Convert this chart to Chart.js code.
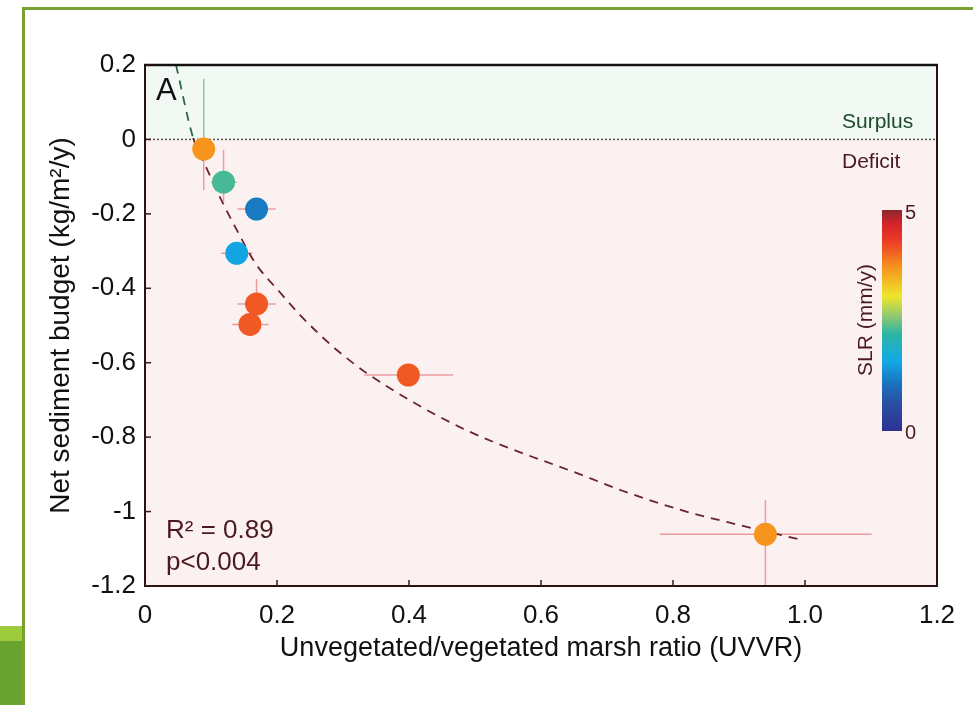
<!DOCTYPE html>
<html>
<head>
<meta charset="utf-8">
<script src="https://cdn.jsdelivr.net/npm/chart.js@4/dist/chart.umd.min.js"></script>
<style>
  body { margin: 0; background: #fff; }
  #wrap { position: relative; width: 973px; height: 705px; overflow: hidden; }
  #chart { position: absolute; left: 0; top: 0; }
  .bar { position: absolute; }
</style>
</head>
<body>
<div id="wrap">
  <canvas id="chart" width="973" height="705"></canvas>
  <div class="bar" style="left:22px;top:7px;width:951px;height:3px;background:#78a132"></div>
  <div class="bar" style="left:22px;top:7px;width:3px;height:698px;background:#78a132"></div>
  <div class="bar" style="left:0;top:626px;width:22px;height:15px;background:#9dcb3c"></div>
  <div class="bar" style="left:0;top:641px;width:22px;height:64px;background:#68a32f"></div>
</div>
<script>
// marsh sites
const uvvr = [0.089, 0.119, 0.169, 0.139, 0.169, 0.159, 0.399, 0.940];
const budget = [-0.026, -0.115, -0.187, -0.306, -0.442, -0.497, -0.633, -1.061];
const slr = [3.7, 2.3, 1.15, 1.55, 4.1, 4.1, 4.1, 3.7];

// error bars (null = none visible)
const uvvrLow = [null, 0.100, 0.140, 0.115, 0.140, 0.132, 0.332, 0.780];
const uvvrHigh = [null, 0.139, 0.198, 0.163, 0.198, 0.187, 0.467, 1.101];
const budgetLow = [-0.136, -0.167, null, null, -0.48, null, null, -1.2];
const budgetHigh = [0.163, -0.028, null, null, -0.375, null, null, -0.969];

// fitted curve
const fitX = [0.047, 0.073, 0.091, 0.114, 0.139, 0.167, 0.205, 0.235, 0.265, 0.292, 0.341, 0.477, 0.674, 0.72, 0.82, 0.886, 0.995];
const fitY = [0.2, 0.004, -0.068, -0.157, -0.243, -0.332, -0.412, -0.472, -0.525, -0.568, -0.634, -0.773, -0.91, -0.942, -1.0, -1.03, -1.076];

const xTickLabels = ['0', '0.2', '0.4', '0.6', '0.8', '1.0', '1.2'];
const yTickLabels = ['-1.2', '-1', '-0.8', '-0.6', '-0.4', '-0.2', '0', '0.2'];

// SLR colour scale (mm/y)
const slrStops = [0, 0.6, 1.1, 1.6, 2.2, 2.6, 3.05, 3.7, 4.3, 4.7, 5];
const slrColors = ['#2e3192', '#2a4da3', '#1a75c0', '#12aae6', '#2db5a3', '#90c870', '#eee52a', '#f7941d', '#ec3b26', '#d2232a', '#8c2a2a'];

const FONT = "'Liberation Sans', Arial, sans-serif";
const MAROON = '#4a1a20';

function hexRgb(h) {
    return [1, 3, 5].map(i => parseInt(h.substr(i, 2), 16));
}

function slrColor(v) {
    for (let i = 1; i < slrStops.length; i++) {
        if (v <= slrStops[i]) {
            const t = (v - slrStops[i - 1]) / (slrStops[i] - slrStops[i - 1]);
            const a = hexRgb(slrColors[i - 1]), b = hexRgb(slrColors[i]);
            const c = a.map((q, k) => Math.round(q + (b[k] - q) * t));
            return `rgb(${c[0]},${c[1]},${c[2]})`;
        }
    }
    return slrColors[slrColors.length - 1];
}

const deco = {
    id: 'deco',
    beforeDraw(chart) {
        const {ctx, chartArea: a, scales: {y}} = chart;
        const y0 = y.getPixelForValue(0);
        ctx.save();
        ctx.fillStyle = '#f2f9f4';
        ctx.fillRect(a.left, a.top, a.width, y0 - a.top);
        ctx.fillStyle = '#fcf1f1';
        ctx.fillRect(a.left, y0, a.width, a.bottom - y0);
        ctx.restore();
    },
    beforeDatasetsDraw(chart) {
        const {ctx, chartArea: a, scales: {x, y}} = chart;
        const y0 = y.getPixelForValue(0);
        ctx.save();
        ctx.beginPath();
        ctx.rect(a.left, a.top, a.width, a.height);
        ctx.clip();
        // zero line
        ctx.strokeStyle = '#555';
        ctx.lineWidth = 1.5;
        ctx.setLineDash([2, 2]);
        ctx.beginPath();
        ctx.moveTo(a.left, y0);
        ctx.lineTo(a.right, y0);
        ctx.stroke();
        ctx.setLineDash([]);
        ctx.lineWidth = 1.5;
        uvvr.forEach((u, i) => {
            const px = x.getPixelForValue(u), py = y.getPixelForValue(budget[i]);
            if (uvvrLow[i] !== null) {
                ctx.strokeStyle = '#ea9ca2';
                ctx.beginPath();
                ctx.moveTo(x.getPixelForValue(uvvrLow[i]), py);
                ctx.lineTo(x.getPixelForValue(uvvrHigh[i]), py);
                ctx.stroke();
            }
            if (budgetLow[i] !== null) {
                const top = y.getPixelForValue(budgetHigh[i]);
                const bot = y.getPixelForValue(budgetLow[i]);
                if (top < y0) {
                    ctx.strokeStyle = '#8ccaa2';
                    ctx.beginPath();
                    ctx.moveTo(px, top);
                    ctx.lineTo(px, Math.min(y0, bot));
                    ctx.stroke();
                }
                if (bot > y0) {
                    ctx.strokeStyle = '#ea9ca2';
                    ctx.beginPath();
                    ctx.moveTo(px, Math.max(y0, top));
                    ctx.lineTo(px, bot);
                    ctx.stroke();
                }
            }
        });
        ctx.restore();
    },
    afterDraw(chart) {
        const {ctx, chartArea: a, scales: {x, y}} = chart;
        ctx.save();
        // frame
        ctx.lineWidth = 2;
        ctx.strokeStyle = '#2a1214';
        ctx.beginPath();
        ctx.moveTo(a.left, a.top);
        ctx.lineTo(a.left, a.bottom);
        ctx.lineTo(a.right, a.bottom);
        ctx.lineTo(a.right, a.top);
        ctx.stroke();
        ctx.strokeStyle = '#111';
        ctx.lineWidth = 2.5;
        ctx.beginPath();
        ctx.moveTo(a.left - 1, a.top);
        ctx.lineTo(a.right + 1, a.top);
        ctx.stroke();
        // inward ticks
        ctx.lineWidth = 1.5;
        ctx.strokeStyle = '#3a1418';
        x.ticks.forEach(t => {
            const px = x.getPixelForValue(t.value);
            ctx.beginPath();
            ctx.moveTo(px, a.bottom);
            ctx.lineTo(px, a.bottom - 6);
            ctx.stroke();
        });
        y.ticks.forEach(t => {
            const py = y.getPixelForValue(t.value);
            ctx.beginPath();
            ctx.moveTo(a.left, py);
            ctx.lineTo(a.left + 6, py);
            ctx.stroke();
        });

        // texts
        ctx.textBaseline = 'alphabetic';
        ctx.textAlign = 'left';
        ctx.fillStyle = '#111';
        ctx.font = `31px ${FONT}`;
        ctx.fillText('A', 156, 100);
        ctx.fillStyle = '#1d4a2c';
        ctx.font = `21px ${FONT}`;
        ctx.fillText('Surplus', 842, 128);
        ctx.fillStyle = MAROON;
        ctx.fillText('Deficit', 842, 168);
        ctx.font = `26px ${FONT}`;
        ctx.fillText('R² = 0.89', 166, 538);
        ctx.fillText('p<0.004', 166, 570);

        // colour bar
        const cbL = 882, cbR = 902, cbT = 210, cbB = 431;
        const g = ctx.createLinearGradient(0, cbB, 0, cbT);
        slrStops.forEach((s, i) => g.addColorStop(s / 5, slrColors[i]));
        ctx.fillStyle = g;
        ctx.fillRect(cbL, cbT, cbR - cbL, cbB - cbT);
        ctx.fillStyle = MAROON;
        ctx.font = `20px ${FONT}`;
        ctx.textBaseline = 'middle';
        ctx.fillText('5', 905, 213);
        ctx.fillText('0', 905, 433);
        ctx.translate(866, 320);
        ctx.rotate(-Math.PI / 2);
        ctx.textAlign = 'center';
        ctx.font = `21px ${FONT}`;
        ctx.fillText('SLR (mm/y)', 0, 0);
        ctx.restore();
    }
};

const points = uvvr.map((u, i) => ({x: u, y: budget[i]}));
const fitPoints = fitX.map((u, i) => ({x: u, y: fitY[i]}));

new Chart(document.getElementById('chart'), {
    type: 'scatter',
    data: {
        datasets: [{
            label: 'Sites',
            data: points,
            backgroundColor: slr.map(slrColor),
            borderWidth: 0,
            pointRadius: 11.5,
            order: 0
        }, {
            type: 'line',
            label: 'Fit',
            data: fitPoints,
            borderColor: '#6a2430',
            borderWidth: 1.8,
            borderDash: [9, 7],
            pointRadius: 0,
            cubicInterpolationMode: 'monotone',
            segment: {
                borderColor: ctx => ctx.p0DataIndex === 0 ? '#2a6a40' : '#6a2430'
            },
            order: 1
        }]
    },
    options: {
        responsive: false,
        animation: false,
        devicePixelRatio: 1,
        layout: {padding: {top: 65, right: 36, bottom: 0, left: 0}},
        plugins: {legend: {display: false}, tooltip: {enabled: false}},
        scales: {
            x: {
                type: 'linear',
                min: 0,
                max: 1.2,
                afterFit: s => { s.height = 119; },
                grid: {display: false, drawTicks: false},
                border: {display: false},
                ticks: {
                    stepSize: 0.2,
                    padding: 14,
                    color: '#111',
                    font: {family: FONT, size: 26},
                    callback: (v, i) => xTickLabels[i]
                },
                title: {
                    display: true,
                    text: 'Unvegetated/vegetated marsh ratio (UVVR)',
                    color: '#111',
                    font: {family: FONT, size: 27},
                    padding: {top: 0, bottom: 40}
                }
            },
            y: {
                type: 'linear',
                min: -1.2,
                max: 0.2,
                afterFit: s => { s.width = 145; },
                grid: {display: false, drawTicks: false},
                border: {display: false},
                ticks: {
                    stepSize: 0.2,
                    padding: 9,
                    color: '#111',
                    font: {family: FONT, size: 26},
                    callback: (v, i) => yTickLabels[i]
                },
                title: {
                    display: true,
                    text: 'Net sediment budget (kg/m²/y)',
                    color: '#111',
                    font: {family: FONT, size: 28},
                    padding: {top: 44, bottom: 0}
                }
            }
        }
    },
    plugins: [deco]
});
</script>
</body>
</html>
